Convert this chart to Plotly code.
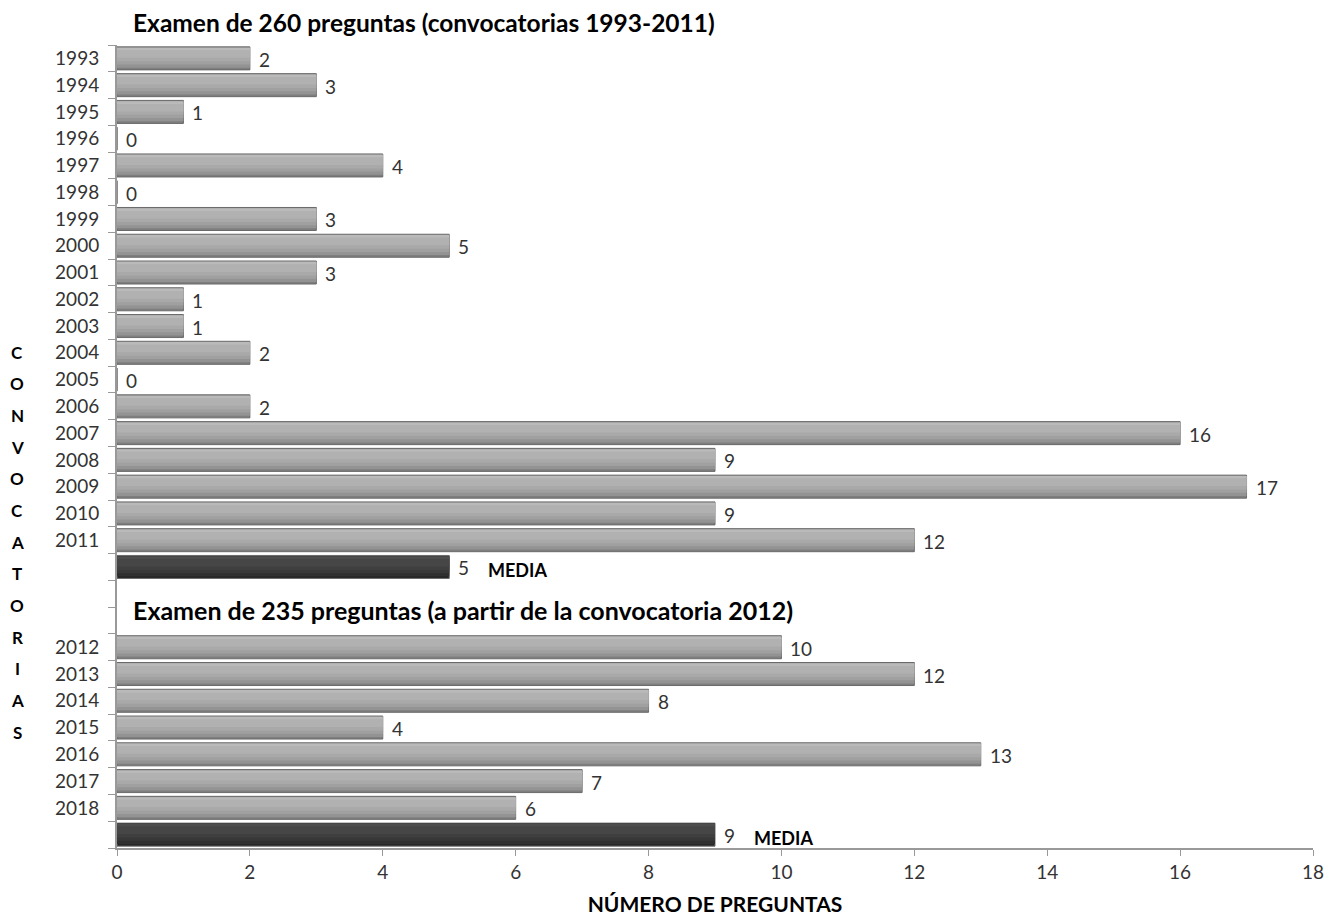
import plotly.graph_objects as go

# ---- data ----
years_1 = [str(y) for y in range(1993, 2012)]
values_1 = [2, 3, 1, 0, 4, 0, 3, 5, 3, 1, 1, 2, 0, 2, 16, 9, 17, 9, 12]
mean_1 = 5
years_2 = [str(y) for y in range(2012, 2019)]
values_2 = [10, 12, 8, 4, 13, 7, 6]
mean_2 = 9
title_1 = "Examen de 260 preguntas (convocatorias 1993-2011)"
title_2 = "Examen de 235 preguntas (a partir de la convocatoria 2012)"
x_title = "NÚMERO DE PREGUNTAS"
y_title = "CONVOCATORIAS"
x_ticks = list(range(0, 19, 2))

# ---- row layout (top to bottom) ----
labels, vals, kinds = [], [], []
for y, v in zip(years_1, values_1):
    labels.append(y); vals.append(v); kinds.append("y")
labels.append(""); vals.append(mean_1); kinds.append("m")
labels += ["", ""]; vals += [None, None]; kinds += ["b", "b"]
for y, v in zip(years_2, values_2):
    labels.append(y); vals.append(v); kinds.append("y")
labels.append(""); vals.append(mean_2); kinds.append("m")
pos = list(range(len(labels)))
n = len(labels)

FONT = "Lato"
layers = [  # (width, offset, light colour, dark colour) -> fake cylinder shading
    (0.86, None, "#7e7e7e", "#262626"),
    (0.76, -0.41, "#939393", "#2f2f2f"),
    (0.62, -0.39, "#a0a0a0", "#383838"),
    (0.46, -0.35, "#a9a9a9", "#3f3f3f"),
    (0.28, -0.30, "#b1b1b1", "#464646"),
    (0.10, -0.40, "#bababa", "#4e4e4e"),
]

fig = go.Figure()
for w, off, cl, cd in layers:
    cols = [cd if k == "m" else cl for k in kinds]
    kw = dict(offset=off) if off is not None else {}
    fig.add_trace(go.Bar(
        x=vals, y=pos, orientation="h", width=w,
        marker=dict(color=cols,
                    line=dict(color="#6a6a6a", width=1) if off is None else dict(width=0)),
        hoverinfo="skip", showlegend=False, **kw))

annotations = []
# value labels
for p, v in zip(pos, vals):
    if v is not None:
        annotations.append(dict(text=str(v), xref="x", yref="y", x=v, y=p,
                                xanchor="left", yanchor="middle", xshift=7, yshift=-1,
                                showarrow=False, font=dict(family=FONT, size=19, color="#333333")))
# titles
annotations.append(dict(text="<b>%s</b>" % title_1, xref="paper", yref="paper",
                        x=0, y=1, xanchor="left", yanchor="bottom", xshift=14, yshift=6,
                        showarrow=False, font=dict(family=FONT, size=24.5, color="#000000")))
title2_pos = pos[labels.index(years_2[0])] - 1.4
annotations.append(dict(text="<b>%s</b>" % title_2, xref="paper", yref="y",
                        x=0, y=title2_pos, xanchor="left", yanchor="middle", xshift=14,
                        showarrow=False, font=dict(family=FONT, size=25, color="#000000")))
# MEDIA labels
for p, v, k in zip(pos, vals, kinds):
    if k == "m":
        annotations.append(dict(text="<b>MEDIA</b>", xref="x", yref="y", x=v, y=p,
                                xanchor="left", yanchor="middle", xshift=37, yshift=-3,
                                showarrow=False, font=dict(family=FONT, size=18, color="#000000")))
# vertical y title letters
letters = list(y_title)
top_px, bot_px, plot_top, plot_h = 352, 732, 45, 803
for i, ch in enumerate(letters):
    py = top_px + i * (bot_px - top_px) / (len(letters) - 1)
    annotations.append(dict(text="<b>%s</b>" % ch, xref="paper", yref="paper",
                            x=0, y=1 - (py - plot_top) / plot_h, xanchor="center", yanchor="middle",
                            xshift=-100, showarrow=False,
                            font=dict(family=FONT, size=17, color="#000000")))

fig.update_layout(
    width=1338, height=917,
    margin=dict(l=117, r=25, t=45, b=69, autoexpand=False),
    paper_bgcolor="white", plot_bgcolor="white",
    barmode="overlay", bargap=0.1,
    annotations=annotations,
    font=dict(family=FONT, size=18, color="#333333"),
)
fig.update_xaxes(range=[0, 18], tickvals=x_ticks, showgrid=False, zeroline=False,
                 automargin=False,
                 showline=True, linecolor="#999999", linewidth=1.5,
                 ticks="outside", ticklen=6, tickcolor="#999999",
                 tickfont=dict(family=FONT, size=19, color="#333333"),
                 title=dict(text="<b>%s</b>" % x_title, standoff=16,
                            font=dict(family=FONT, size=21, color="#000000")))
fig.update_yaxes(range=[n - 0.5, -0.5], tickvals=pos, ticktext=labels,
                 showgrid=False, zeroline=False, automargin=False,
                 showline=True, linecolor="#999999", linewidth=2,
                 ticks="", ticklabelstandoff=12,
                 tickfont=dict(family=FONT, size=19, color="#333333"),
                 minor=dict(tickvals=[p - 0.5 for p in pos] + [n - 0.5], ticks="outside",
                            ticklen=7, tickcolor="#999999", showgrid=False))

fig.write_html("out.html", config={"displayModeBar": False},
               post_script="document.body.style.margin='0px';")
